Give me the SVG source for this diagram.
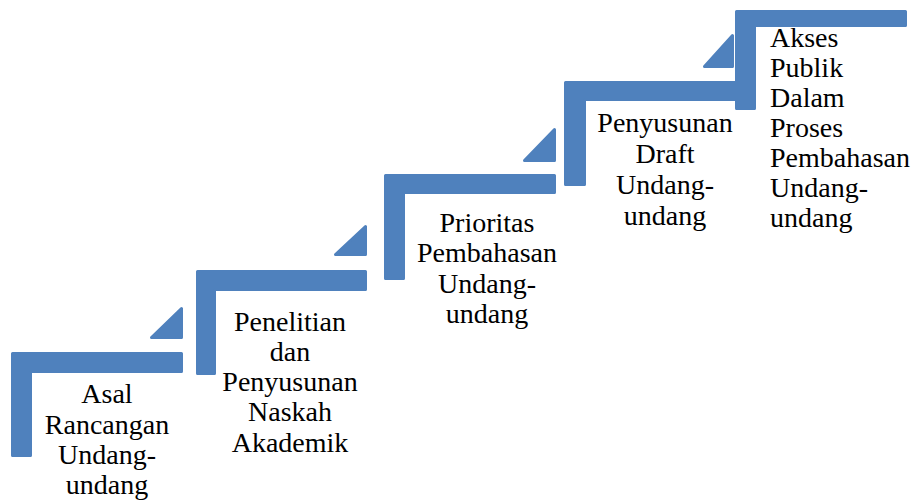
<svg xmlns="http://www.w3.org/2000/svg" width="919" height="500" viewBox="0 0 919 500">
<style>
.shape{fill:#4F81BD;stroke:#4F81BD;stroke-width:3;stroke-linejoin:round}
.c{text-anchor:middle}
</style>
<rect width="919" height="500" fill="#fff"/>
<g font-family="Liberation Serif, Times New Roman, DejaVu Serif, serif" font-size="28" fill="#000">
<g id="step1">
<path class="shape" d="M12.5,353.5 H181.5 V371.5 H30.5 V455.5 H12.5 Z"/>
<path class="shape" d="M151.5,337.5 L181.5,308.5 V337.5 Z"/>
<text class="c" x="107" y="403">Asal</text>
<text class="c" x="107" y="434">Rancangan</text>
<text class="c" x="107" y="464">Undang-</text>
<text class="c" x="107" y="494">undang</text>
</g>
<g id="step2">
<path class="shape" d="M197.5,271.5 H365.5 V289.5 H214.5 V373.5 H197.5 Z"/>
<path class="shape" d="M335.5,254.5 L365.5,226.5 V254.5 Z"/>
<text class="c" x="290" y="331">Penelitian</text>
<text class="c" x="290" y="361">dan</text>
<text class="c" x="290" y="391">Penyusunan</text>
<text class="c" x="290" y="421">Naskah</text>
<text class="c" x="290" y="452">Akademik</text>
</g>
<g id="step3">
<path class="shape" d="M385.5,175.5 H554.5 V192.5 H403.5 V278.5 H385.5 Z"/>
<path class="shape" d="M524.5,160.5 L554.5,129.5 V160.5 Z"/>
<text class="c" x="487" y="232">Prioritas</text>
<text class="c" x="487" y="262">Pembahasan</text>
<text class="c" x="487" y="293">Undang-</text>
<text class="c" x="487" y="323">undang</text>
</g>
<g id="step4">
<path class="shape" d="M565.5,82.5 H736.5 V99.5 H584.5 V184.5 H565.5 Z"/>
<path class="shape" d="M704.5,66.5 L732.5,35.5 V66.5 Z"/>
<text class="c" x="665" y="132">Penyusunan</text>
<text class="c" x="665" y="163">Draft</text>
<text class="c" x="665" y="194">Undang-</text>
<text class="c" x="665" y="225">undang</text>
</g>
<g id="step5">
<path class="shape" d="M736.5,11.5 H905.5 V25.5 H754.5 V108.5 H736.5 Z"/>
<text x="770" y="47">Akses</text>
<text x="770" y="77">Publik</text>
<text x="770" y="107">Dalam</text>
<text x="770" y="137">Proses</text>
<text x="770" y="167">Pembahasan</text>
<text x="770" y="197">Undang-</text>
<text x="770" y="227">undang</text>
</g>
</g>
<g id="connectors"></g>
</svg>
